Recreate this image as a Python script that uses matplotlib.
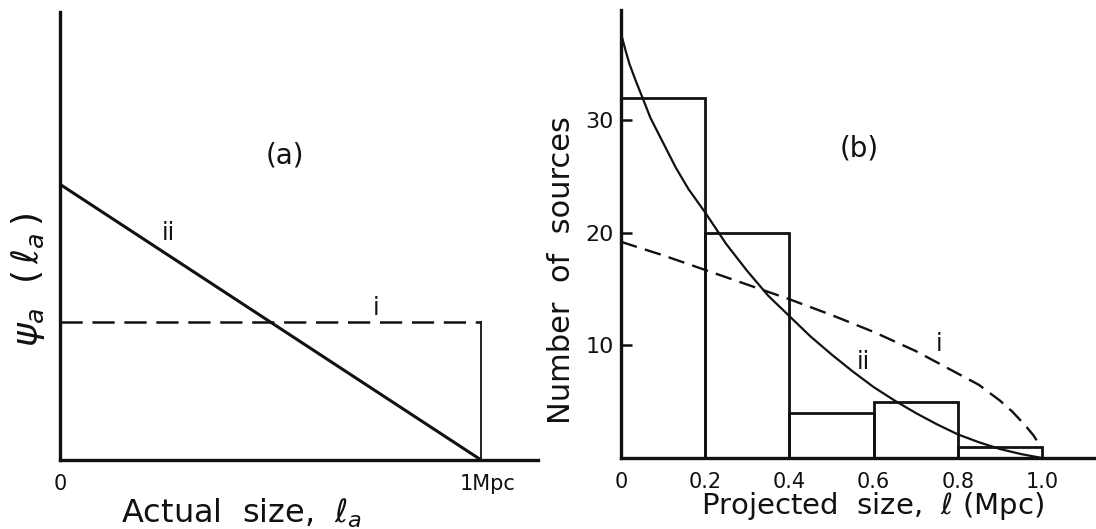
import matplotlib
matplotlib.use("Agg")
import matplotlib.pyplot as plt

plt.rcParams['font.family'] = ['DejaVu Sans']
plt.rcParams['mathtext.fontset'] = 'dejavusans'
plt.rcParams['lines.scale_dashes'] = False

# ---------------- data ----------------
# Panel (a): intrinsic size distributions
a_size = [0.0, 1.0]
a_psi_i = [1.0, 1.0]          # model i (uniform, dashed)
a_psi_ii = [2.0, 0.0]         # model ii (linear, solid)

# Panel (b): histogram of projected sizes
bin_edges = [0.0, 0.2, 0.4, 0.6, 0.8, 1.0]
counts = [32, 20, 4, 5, 1]

# Panel (b): predicted curves
b_l_i = [0.0, 0.1, 0.2, 0.3, 0.4, 0.5, 0.6, 0.7, 0.75, 0.8, 0.85, 0.9,
         0.93, 0.96, 0.98, 0.99, 1.0]
b_n_i = [19.2, 18.0, 16.7, 15.4, 14.1, 12.7, 11.2, 9.5, 8.5, 7.5, 6.5, 5.1,
         4.1, 2.9, 2.0, 1.4, 1.0]
b_l_ii = [0.0, 0.01, 0.02, 0.035, 0.05, 0.07, 0.1, 0.13, 0.16, 0.2, 0.25,
          0.3, 0.35, 0.4, 0.45, 0.5, 0.55, 0.6, 0.65, 0.7, 0.75, 0.8, 0.85,
          0.9, 0.95, 1.0]
b_n_ii = [37.7, 36.3, 35.0, 33.5, 32.1, 30.2, 28.0, 25.8, 23.9, 21.8, 19.0,
          16.6, 14.4, 12.6, 10.8, 9.2, 7.7, 6.3, 5.1, 4.0, 3.0, 2.1, 1.4,
          0.8, 0.35, 0.0]

b_yticks = [10, 20, 30]
b_xticks = [0, 0.2, 0.4, 0.6, 0.8, 1.0]
b_xticklabels = ['0', '0.2', '0.4', '0.6', '0.8', '1.0']

# ---------------- figure ----------------
W, H = 1096, 529
fig = plt.figure(figsize=(W / 100, H / 100), dpi=100)

def frac(left, top, right, bottom):
    return [left / W, 1 - bottom / H, (right - left) / W, (bottom - top) / H]

ink = '#111111'

# ---- panel (a) ----
axa = fig.add_axes(frac(60, 12, 538, 460))
axa.set_xlim(0, 1.135)
axa.set_ylim(0, 3.25)
for s in ['top', 'right']:
    axa.spines[s].set_visible(False)
for s in ['left', 'bottom']:
    axa.spines[s].set_linewidth(2.4)
    axa.spines[s].set_color(ink)
axa.plot(a_size, a_psi_ii, color=ink, lw=2.2, solid_capstyle='butt')
axa.plot(a_size, a_psi_i, color=ink, lw=1.8, linestyle=(0, (16, 7)))
axa.plot([a_size[-1], a_size[-1]], [0, a_psi_i[-1]], color=ink, lw=1.3)
axa.set_xticks([0, 1.015])
axa.set_xticklabels(['0', '1Mpc'])
axa.set_yticks([])
axa.tick_params(axis='x', length=0, pad=10, labelsize=15, colors=ink)
axa.text(0.534, 2.21, '(a)', fontsize=20, ha='center', va='center', color=ink)
axa.text(0.257, 1.645, 'ii', fontsize=17, ha='center', va='center', color=ink)
axa.text(0.751, 1.10, 'i', fontsize=17, ha='center', va='center', color=ink)
axa.set_xlabel(r'Actual  size,  $\ell_a$', fontsize=23, va='center', color=ink)
axa.xaxis.set_label_coords((242 - 60) / 478, -(513 - 460) / 448)
axa.set_ylabel(r'$\psi_a\ \ (\,\ell_a\,)$', fontsize=26, va='center', color=ink)
axa.yaxis.set_label_coords((28 - 60) / 478, (460 - 280) / 448)

# ---- panel (b) ----
axb = fig.add_axes(frac(621, 10, 1096, 458))
axb.set_xlim(0, 475 / 421)
axb.set_ylim(0, 448 / 11.26)
for s in ['top', 'right']:
    axb.spines[s].set_visible(False)
for s in ['left', 'bottom']:
    axb.spines[s].set_linewidth(2.4)
    axb.spines[s].set_color(ink)
widths = [bin_edges[i + 1] - bin_edges[i] for i in range(len(counts))]
axb.bar(bin_edges[:-1], counts, width=widths, align='edge', fill=False,
        edgecolor=ink, linewidth=2.0)
axb.plot(b_l_ii, b_n_ii, color=ink, lw=1.6)
axb.plot(b_l_i, b_n_i, color=ink, lw=1.7, linestyle=(0, (12, 6)))
axb.set_xticks(b_xticks)
axb.set_xticklabels(b_xticklabels)
axb.set_yticks(b_yticks)
axb.tick_params(axis='x', length=0, pad=10, labelsize=15, colors=ink)
axb.tick_params(axis='y', direction='in', length=8, width=1.8, pad=5,
                labelsize=16, colors=ink)
axb.text(0.565, 27.5, '(b)', fontsize=20, ha='center', va='center', color=ink)
axb.text(0.755, 10.1, 'i', fontsize=17, ha='center', va='center', color=ink)
axb.text(0.575, 8.5, 'ii', fontsize=17, ha='center', va='center', color=ink)
axb.set_xlabel(r'Projected  size,  $\ell$ (Mpc)', fontsize=21, va='center',
               color=ink)
axb.xaxis.set_label_coords((873 - 621) / 475, -(506 - 458) / 448)
axb.set_ylabel('Number  of  sources', fontsize=22, va='center', color=ink)
axb.yaxis.set_label_coords((562 - 621) / 475, (458 - 270) / 448)

fig.savefig('out.png', dpi=100, facecolor='white')
